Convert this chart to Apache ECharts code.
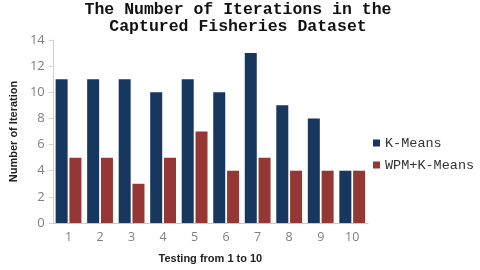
<!DOCTYPE html>
<html><head><meta charset="utf-8">
<script src="https://cdn.jsdelivr.net/npm/echarts@6/dist/echarts.min.js"></script>
<style>html,body{margin:0;padding:0;background:#fff}#c{width:480px;height:270px}</style>
</head><body><div id="c"></div>
<script>
var categories = ['1','2','3','4','5','6','7','8','9','10'];
var kMeans = [11, 11, 11, 10, 11, 10, 13, 9, 8, 4];
var wpmKMeans = [5, 5, 3, 5, 7, 4, 5, 4, 4, 4];
var seriesNames = ['K-Means', 'WPM+K-Means'];
var titleText = 'The Number of Iterations in the\nCaptured Fisheries Dataset';
var yName = 'Number of Iteration';
var xName = 'Testing from 1 to 10';

var chart = echarts.init(document.getElementById('c'));
chart.setOption({
  animation: false,
  backgroundColor: '#fff',
  title: {
    text: titleText, left: 238, top: 1, padding: 0, textAlign: 'center',
    textStyle: { fontFamily: 'Liberation Mono', fontWeight: 'bold', fontSize: 16.5, lineHeight: 17, color: '#111' }
  },
  legend: {
    orient: 'vertical', left: 368, top: 131, itemWidth: 7, itemHeight: 7, itemGap: 8, icon: 'rect',
    textStyle: { fontFamily: 'Liberation Mono', fontSize: 13.5, color: '#333' },
    data: seriesNames
  },
  grid: { left: 52, right: 112, top: 40, bottom: 47 },
  xAxis: {
    type: 'category', data: categories,
    axisLine: { lineStyle: { color: '#c8c8c8' } },
    axisTick: { show: false },
    axisLabel: { color: '#808080', fontFamily: 'Open Sans', fontSize: 12.5, margin: 8 },
    name: xName, nameLocation: 'middle', nameGap: 30,
    nameTextStyle: { fontFamily: 'Liberation Sans', fontWeight: 'bold', fontSize: 11, color: '#222' }
  },
  yAxis: {
    type: 'value', min: 0, max: 14, interval: 2,
    axisLine: { show: true, lineStyle: { color: '#d0d0d0' } },
    axisTick: { show: true, length: 4, lineStyle: { color: '#d0d0d0' } },
    splitLine: { show: false },
    axisLabel: { color: '#808080', fontFamily: 'Open Sans', fontSize: 13, margin: 8 },
    name: yName, nameLocation: 'middle', nameGap: 33, nameRotate: 90,
    nameTextStyle: { fontFamily: 'Liberation Sans', fontWeight: 'bold', fontSize: 11, color: '#222' }
  },
  series: [
    { name: seriesNames[0], type: 'bar', data: kMeans, barWidth: 12, barGap: '15%', itemStyle: { color: '#17375e' } },
    { name: seriesNames[1], type: 'bar', data: wpmKMeans, barWidth: 12, itemStyle: { color: '#953735' } }
  ]
});
</script></body></html>
